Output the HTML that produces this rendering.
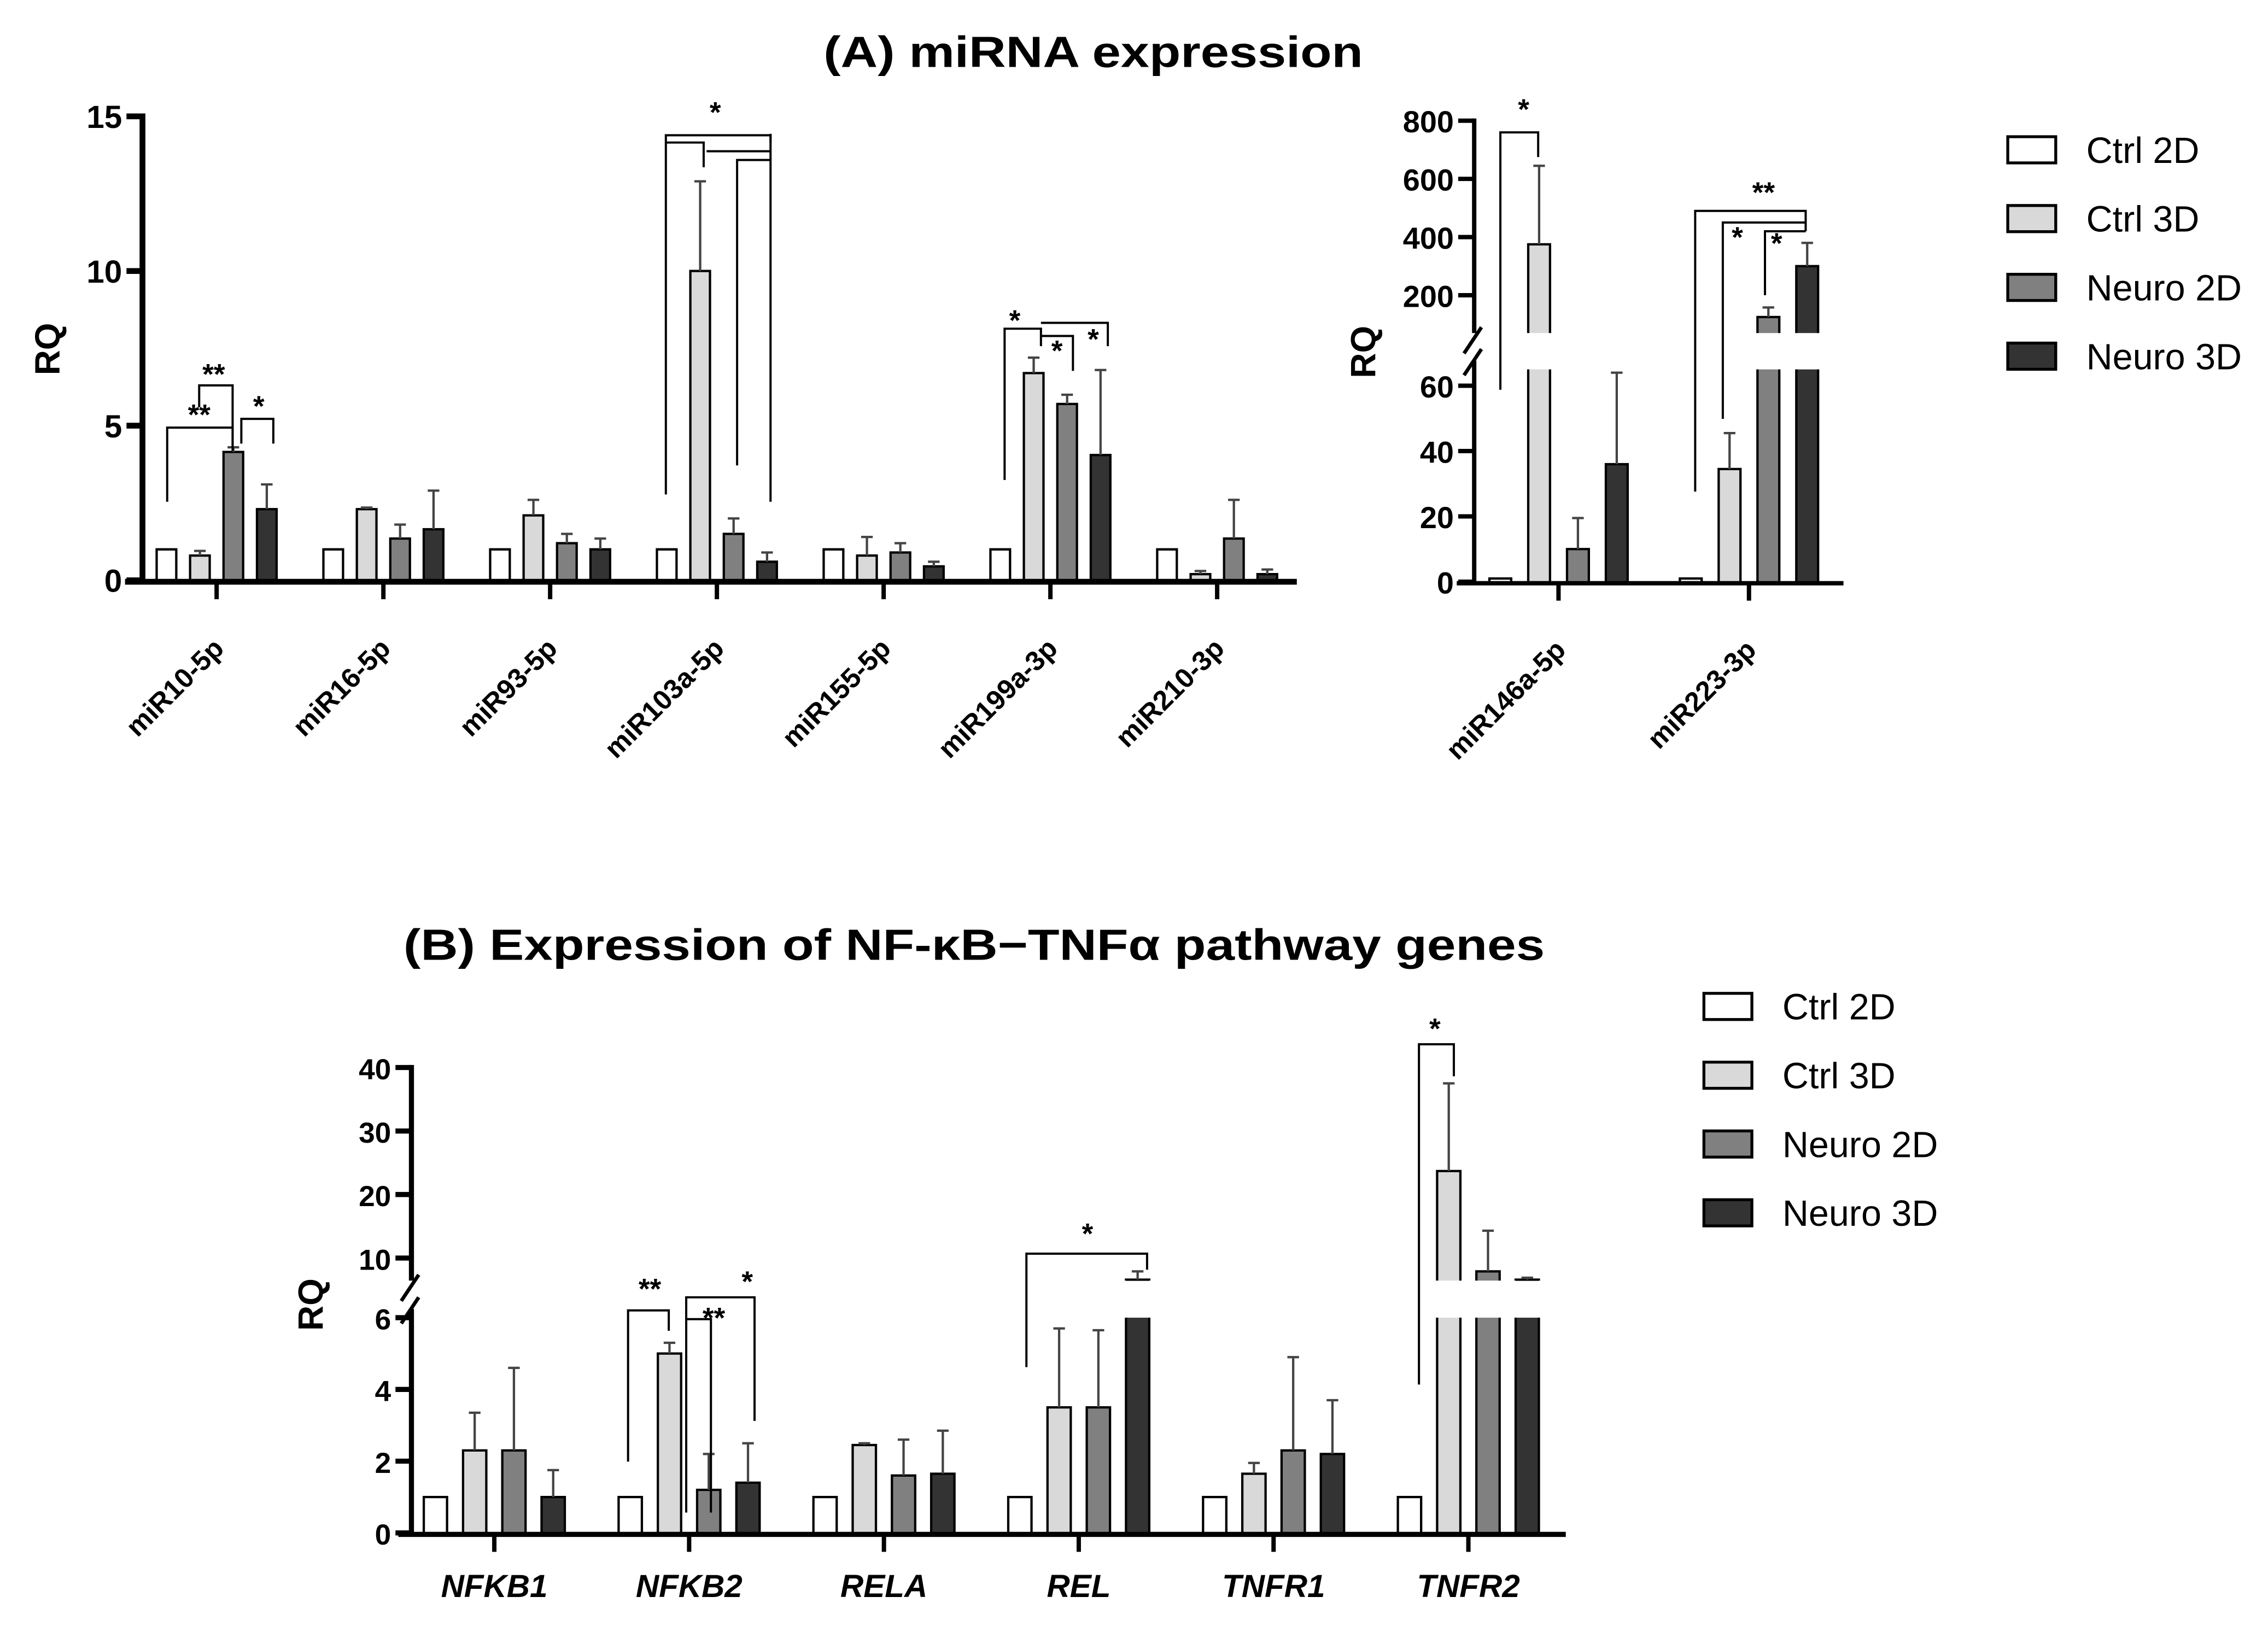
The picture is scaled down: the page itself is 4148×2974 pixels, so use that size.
<!DOCTYPE html>
<html><head><meta charset="utf-8"><style>
html,body{margin:0;padding:0;background:#fff;}
svg{display:block;font-family:"Liberation Sans",Arial,sans-serif;}
</style></head><body>
<svg id="fig" width="4148" height="2974" viewBox="0 0 1560 1118" preserveAspectRatio="none" xmlns="http://www.w3.org/2000/svg">
<rect width="1560" height="1118" fill="#fff"/>
<text x="752" y="46" text-anchor="middle" font-size="30" font-weight="bold" textLength="371" lengthAdjust="spacingAndGlyphs">(A) miRNA expression</text>
<text x="670" y="660" text-anchor="middle" font-size="30" font-weight="bold" textLength="785" lengthAdjust="spacingAndGlyphs">(B) Expression of NF-κB−TNFα pathway genes</text>
<g id="pA1"></g>
<g id="pA2"></g>
<g id="pB"></g>
<g id="legA"></g>
<g id="legB"></g>
</svg>
<script>
const seriesNames = ["Ctrl 2D","Ctrl 3D","Neuro 2D","Neuro 3D"];
const seriesColors = ["#ffffff","#d9d9d9","#808080","#333333"];

const catA1 = ["miR10-5p","miR16-5p","miR93-5p","miR103a-5p","miR155-5p","miR199a-3p","miR210-3p"];
const a1Ctrl2D = [1,1,1,1,1,1,1];
const a1Ctrl3D = [0.8,2.3,2.1,10,0.8,6.7,0.2];
const a1Neuro2D = [4.15,1.35,1.2,1.5,0.9,5.7,1.35];
const a1Neuro3D = [2.3,1.65,1.0,0.6,0.45,4.05,0.2];
const a1Ctrl3DErr = [0.95,2.35,2.6,12.9,1.4,7.2,0.3];
const a1Neuro2DErr = [4.3,1.8,1.5,2.0,1.2,6.0,2.6];
const a1Neuro3DErr = [3.1,2.9,1.35,0.9,0.6,6.8,0.35];
const a1Ticks = [0,5,10,15];

const catA2 = ["miR146a-5p","miR223-3p"];
const a2Ctrl2D = [1,1];
const a2Ctrl3D = [375,34.5];
const a2Neuro2D = [10,125];
const a2Neuro3D = [36,300];
const a2Ctrl3DErr = [645,45.5];
const a2Neuro2DErr = [19.5,158];
const a2Neuro3DErr = [64,380];
const a2TicksLow = [0,20,40,60];
const a2TicksHigh = [200,400,600,800];

const catB = ["NFKB1","NFKB2","RELA","REL","TNFR1","TNFR2"];
const bCtrl2D = [1,1,1,1,1,1];
const bCtrl3D = [2.3,5.0,2.45,3.5,1.65,23.7];
const bNeuro2D = [2.3,1.2,1.6,3.5,2.3,7.9];
const bNeuro3D = [1.0,1.4,1.65,6.6,2.2,6.6];
const bCtrl3DErr = [3.35,5.3,2.5,5.7,1.95,37.5];
const bNeuro2DErr = [4.6,2.2,2.6,5.65,4.9,14.3];
const bNeuro3DErr = [1.75,2.5,2.85,7.9,3.7,6.9];
const bTicksLow = [0,2,4,6];
const bTicksHigh = [10,20,30,40];

const NS="http://www.w3.org/2000/svg";
function mk(parent,tag,attrs,txt){const e=document.createElementNS(NS,tag);for(const k in attrs)e.setAttribute(k,attrs[k]);if(txt!==undefined)e.textContent=txt;parent.appendChild(e);return e;}

function makeScale(segs){
  return function(v){
    for(const s of segs){ if(v<=s.d1||s===segs[segs.length-1]){ if(v<s.d0) v=s.d0; return s.p0+(v-s.d0)/(s.d1-s.d0)*(s.p1-s.p0);} }
  };
}

function drawPanel(cfg){
  const g=document.getElementById(cfg.id);
  const segs=cfg.segs;
  const sc=makeScale(segs);
  const vals=[cfg.v0,cfg.v1,cfg.v2,cfg.v3];
  const errs=[null,cfg.e1,cfg.e2,cfg.e3];
  const xc=i=>cfg.x0+i*cfg.pitch;
  for(let i=0;i<cfg.cats.length;i++){
    for(let s=0;s<4;s++){
      const cx=xc(i)+(s-1.5)*cfg.barPitch;
      const v=vals[s][i];
      for(let k=0;k<segs.length;k++){
        const sg=segs[k];
        if(v<=sg.d0 && k>0) continue;
        const yb=(k===0)?cfg.y0:sg.p0;
        const yt=(k===0)?(v>sg.d1?sg.p1:sc(v)):sc(Math.min(v,sg.d1));
        const x1=cx-cfg.bw/2, x2=cx+cfg.bw/2;
        const h=Math.max(0.8,Math.abs(yb-yt));
        const r=mk(g,'rect',{x:x1,y:Math.min(yt,yb),width:cfg.bw,height:h,fill:seriesColors[s],stroke:'none'});
        
        
        const cut=(k===0 && v>sg.d1);
        let d;
        if(cut) d=`M${x1} ${yb} V${yt} M${x2} ${yt} V${yb}`;
        else if(k>0) d=`M${x1} ${yb} V${yt} H${x2} V${yb}`;
        else d=`M${x1} ${yb} V${yt} H${x2} V${yb}`;
        mk(g,'path',{d:d,fill:'none',stroke:'#000','stroke-width':1.6});
      }
      if(errs[s]){
        const e=errs[s][i];
        const yt=sc(e), yv=sc(v);
        const l=mk(g,'path',{d:`M${cx} ${yv} V${yt} M${cx-4} ${yt} H${cx+4}`,stroke:'#444','stroke-width':1.6,fill:'none'});
        
        
      }
    }
    mk(g,'line',{x1:xc(i),y1:cfg.y0,x2:xc(i),y2:cfg.y0+13,stroke:'#000','stroke-width':3});
    let t;
    if(cfg.rot){
      t=mk(g,'text',{x:0,y:0,'text-anchor':'end','font-size':19,'font-weight':'bold',transform:`translate(${xc(i)+6},${cfg.y0+48}) rotate(-45)`},cfg.cats[i]);
    } else {
      t=mk(g,'text',{x:xc(i),y:cfg.y0+44,'text-anchor':'middle','font-size':22,'font-weight':'bold','font-style':'italic'},cfg.cats[i]);
    }
    
    
  }
  const xa=mk(g,'line',{x1:cfg.xaL,y1:cfg.y0+1,x2:cfg.xaR,y2:cfg.y0+1,stroke:'#000','stroke-width':cfg.axW});
  
  
  for(let k=0;k<segs.length;k++){
    const sg=segs[k];
    const yb=(k===0)?cfg.y0+2:sg.p0;
    const yt=sg.p1- (k===segs.length-1?cfg.axW/2:0);
    const ya=mk(g,'line',{x1:cfg.ax,y1:yb,x2:cfg.ax,y2:(k<segs.length-1)?sg.p1-6:yt,stroke:'#000','stroke-width':cfg.axW});
    
    
    if(k<segs.length-1){
      mk(g,'line',{x1:cfg.ax-7,y1:sg.p1+4,x2:cfg.ax+5,y2:sg.p1-14,stroke:'#000','stroke-width':2.5});
      const n=segs[k+1];
      mk(g,'line',{x1:cfg.ax-7,y1:n.p0+14,x2:cfg.ax+5,y2:n.p0-4,stroke:'#000','stroke-width':2.5});
    }
  }
  for(const tv of cfg.ticks){
    const y=sc(tv);
    mk(g,'line',{x1:cfg.ax-11,y1:y,x2:cfg.ax,y2:y,stroke:'#000','stroke-width':cfg.axW});
    const tt=mk(g,'text',{x:cfg.ax-14,y:y+8,'text-anchor':'end','font-size':cfg.tfs,'font-weight':'bold'},String(tv));
    
    
  }
  const yl=mk(g,'text',{x:0,y:0,'text-anchor':'middle','font-size':24,'font-weight':'bold',transform:`translate(${cfg.ylx},${cfg.yly}) rotate(-90)`},'RQ');
  
  
}

drawPanel({id:'pA1',cats:catA1,v0:a1Ctrl2D,v1:a1Ctrl3D,v2:a1Neuro2D,v3:a1Neuro3D,e1:a1Ctrl3DErr,e2:a1Neuro2DErr,e3:a1Neuro3DErr,
  segs:[{d0:0,d1:15,p0:399,p1:80}],ticks:a1Ticks,x0:149,pitch:114.7,barPitch:23,bw:13.5,y0:399,ax:98,axW:4,xaL:86,xaR:892,rot:true,tfs:22,ylx:41,yly:240});
drawPanel({id:'pA2',cats:catA2,v0:a2Ctrl2D,v1:a2Ctrl3D,v2:a2Neuro2D,v3:a2Neuro3D,e1:a2Ctrl3DErr,e2:a2Neuro2DErr,e3:a2Neuro3DErr,
  segs:[{d0:0,d1:65,p0:400,p1:254},{d0:70,d1:800,p0:229,p1:83}],ticks:a2TicksLow.concat(a2TicksHigh),x0:1072,pitch:131,barPitch:26.7,bw:15,y0:400,ax:1014,axW:3,xaL:1002,xaR:1268,rot:true,tfs:21,ylx:946,yly:242});
drawPanel({id:'pB',cats:catB,v0:bCtrl2D,v1:bCtrl3D,v2:bNeuro2D,v3:bNeuro3D,e1:bCtrl3DErr,e2:bNeuro2DErr,e3:bNeuro3DErr,
  segs:[{d0:0,d1:6,p0:1054,p1:906},{d0:6.45,d1:40,p0:880.5,p1:734}],ticks:bTicksLow.concat(bTicksHigh),x0:340,pitch:134,barPitch:27,bw:16,y0:1054,ax:283,axW:3.5,xaL:274,xaR:1077,rot:false,tfs:20,ylx:222,yly:897});

const brackets=[
 "M115 345 V294 H160 V308","M137 280 V265 H160 V310","M166 305 V288 H188 V305",
 "M458 340 V93 H530 V98","M458 98 H484 V115","M486 104 H530","M507 320 V110 H530","M530 345 V92",
 "M691 330 V226 H716 V238","M716 222 H762 V238","M716 231 H738 V255",
 "M1032 268 V91 H1058 V108","M1166 338 V145 H1242 V159","M1185 288 V153 H1242","M1214 203 V159 H1242",
 "M432 1005 V901 H460 V915","M472 1040 V892 H519 V977","M472 907 H489 V1040",
 "M706 940 V862 H789 V873","M976 952 V718 H1000 V740"
];
const stars=[["**",137,292],["**",147,264],["*",178,286],["*",492,84],["*",698,227],["*",727,248],["*",752,240],
 ["*",1048,82],["**",1213,139],["*",1195,170],["*",1222,174],
 ["**",447,893],["**",491,913],["*",514,888],["*",748,855],["*",987,714]];
const sg=document.getElementById('fig');
const bg=mk(sg,'g',{});


for(const d of brackets){ mk(bg,'path',{d:d,fill:'none',stroke:'#000','stroke-width':1.5}); }
for(const s of stars){ const t=mk(bg,'text',{x:s[1],y:s[2],'text-anchor':'middle','font-size':20,'font-weight':'bold'},s[0]);
  
   }

function legend(id,bx,ty,dy){
  const g=document.getElementById(id);
  for(let s=0;s<4;s++){
    const y=ty+s*dy;
    const r=mk(g,'rect',{x:bx,y:y-9,width:33,height:18,fill:seriesColors[s],stroke:'#000','stroke-width':2});
    
    
    const t=mk(g,'text',{x:bx+54,y:y+9,'font-size':25},seriesNames[s]);
    
    
  }
}
legend('legA',1381,103,47.3);
legend('legB',1172,692,47.3);
</script>
</body></html>
